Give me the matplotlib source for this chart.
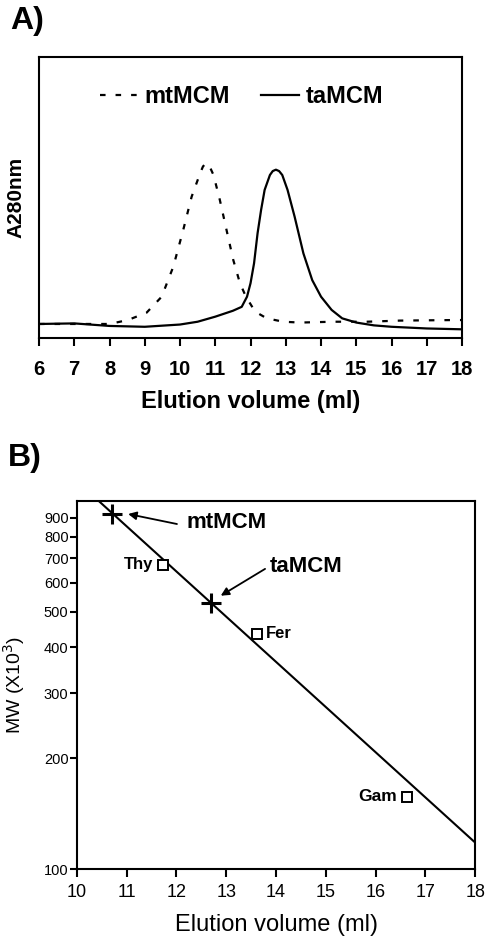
import matplotlib
matplotlib.use("Agg")
import matplotlib.pyplot as plt

plt.rcParams["font.family"] = ["Liberation Sans", "DejaVu Sans"]

# Panel A: gel filtration profiles (A280, arbitrary units)
mt_volume = [6.0, 7.0, 8.0, 8.52, 9.05, 9.48, 9.81, 10.09, 10.33, 10.57, 10.65, 10.73,
             10.83, 10.95, 11.13, 11.32, 11.51, 11.70, 11.87, 12.13, 12.46, 12.93, 13.40,
             14.35, 15.30, 16.24, 17.0, 17.85, 18.0]
mt_abs = [5.0, 5.0, 5.0, 6.4, 9.0, 14.7, 25.4, 38.4, 50.3, 58.6, 61.0, 62.2,
          61.3, 58.0, 49.1, 38.4, 27.8, 19.5, 14.7, 9.4, 7.0, 5.8, 5.5,
          5.8, 5.8, 6.2, 6.3, 6.4, 6.4]

ta_volume = [6.0, 7.0, 8.0, 9.0, 10.0, 10.5, 11.0, 11.5, 11.75, 11.9, 12.0, 12.1,
             12.2, 12.3, 12.4, 12.55, 12.63, 12.72, 12.81, 12.9, 13.05, 13.25, 13.5,
             13.75, 14.0, 14.3, 14.6, 15.0, 15.5, 16.0, 17.0, 18.0]
ta_abs = [5.0, 5.2, 4.3, 4.0, 4.8, 5.8, 7.6, 9.7, 11.1, 14.7, 19.5, 26.6,
          37.3, 45.6, 52.7, 58.0, 59.4, 59.9, 59.4, 58.0, 52.7, 43.2, 30.1,
          20.6, 14.7, 10.0, 7.0, 5.5, 4.5, 4.0, 3.4, 3.1]

# Panel B: calibration (MW x10^3 vs elution volume)
fit_volume = [10.44, 18.0]
fit_mw = [1000, 118]
std_names = ["Thy", "Fer", "Gam"]
std_volume = [11.73, 13.62, 16.63]
std_mw = [671, 436, 157]
mcm_names = ["mtMCM", "taMCM"]
mcm_volume = [10.70, 12.69]
mcm_mw = [922, 529]

fig = plt.figure(figsize=(4.96, 9.4), dpi=100)

# ---- A ----
axA = fig.add_axes([0.0786, 0.6404, 0.853, 0.299])
axA.plot(mt_volume, mt_abs, color="black", lw=1.6, ls=(0, (2.5, 4.5)), label="mtMCM")
axA.plot(ta_volume, ta_abs, color="black", lw=1.6, label="taMCM")
axA.set_xlim(6, 18)
axA.set_ylim(0, 100)
axA.set_xticks(range(6, 19))
axA.set_yticks([])
axA.tick_params(axis="x", direction="out", length=6, width=1.5, labelsize=14.5, pad=10)
for lbl in axA.get_xticklabels():
    lbl.set_fontweight("bold")
for sp in axA.spines.values():
    sp.set_linewidth(1.5)
axA.set_xlabel("Elution volume (ml)", fontsize=17, fontweight="bold")
axA.xaxis.set_label_coords(0.5, -0.185)
axA.set_ylabel("A280nm", fontsize=15, fontweight="bold")
axA.yaxis.set_label_coords(-0.033, 0.5)
axA.legend(loc="center", bbox_to_anchor=(0.479, 0.858), ncol=2, frameon=False,
           prop={"size": 17, "weight": "bold"}, handlelength=1.6,
           handletextpad=0.3, columnspacing=1.3)

# ---- B ----
axB = fig.add_axes([0.155, 0.0755, 0.803, 0.3915])
axB.plot(fit_volume, fit_mw, color="black", lw=1.5)
axB.plot(std_volume, std_mw, ls="none", marker="s", ms=6.5, mfc="white",
         mec="black", mew=1.4)
axB.plot(mcm_volume, mcm_mw, ls="none", marker="+", ms=15, mec="black", mew=2.2)
axB.set_yscale("log")
axB.set_xlim(10, 18)
axB.set_ylim(100, 1000)
axB.set_xticks(range(10, 19))
yt = [100, 200, 300, 400, 500, 600, 700, 800, 900]
axB.set_yticks(yt)
axB.set_yticklabels([str(v) for v in yt])
axB.yaxis.set_minor_locator(matplotlib.ticker.NullLocator())
axB.tick_params(axis="x", direction="out", length=6, width=1.5, labelsize=13, pad=5)
axB.tick_params(axis="y", direction="out", length=5, width=1.5, labelsize=10.5, pad=1)
for sp in axB.spines.values():
    sp.set_linewidth(1.5)
axB.set_xlabel("Elution volume (ml)", fontsize=17)
axB.xaxis.set_label_coords(0.5, -0.122)
axB.set_ylabel("MW (X10$^3$)", fontsize=14)
axB.yaxis.set_label_coords(-0.126, 0.5)

# standard labels
axB.annotate(std_names[0], (std_volume[0], std_mw[0]), xytext=(-7, 0),
             textcoords="offset points", ha="right", va="center",
             fontsize=12, fontweight="bold")
axB.annotate(std_names[1], (std_volume[1], std_mw[1]), xytext=(6, 0),
             textcoords="offset points", ha="left", va="center",
             fontsize=12, fontweight="bold")
axB.annotate(std_names[2], (std_volume[2], std_mw[2]), xytext=(-7, 0),
             textcoords="offset points", ha="right", va="center",
             fontsize=12.5, fontweight="bold")

# MCM labels with arrows
arrow = dict(arrowstyle="-|>", color="black", lw=1.3, mutation_scale=12,
             shrinkA=0, shrinkB=0)
axB.annotate("", xy=(11.03, 922), xytext=(12.01, 866), arrowprops=arrow)
axB.text(12.21, 872, mcm_names[0], ha="left", va="center", fontsize=16,
         fontweight="bold")
axB.annotate("", xy=(12.89, 553), xytext=(13.78, 654), arrowprops=arrow)
axB.text(13.88, 662, mcm_names[1], ha="left", va="center", fontsize=16,
         fontweight="bold")

fig.text(10 / 496, 1 - 6 / 940, "A)", fontsize=23, fontweight="bold", va="top", ha="left")
fig.text(8 / 496, 1 - 443 / 940, "B)", fontsize=23, fontweight="bold", va="top", ha="left")

fig.savefig("out.png", dpi=100, facecolor="white")
